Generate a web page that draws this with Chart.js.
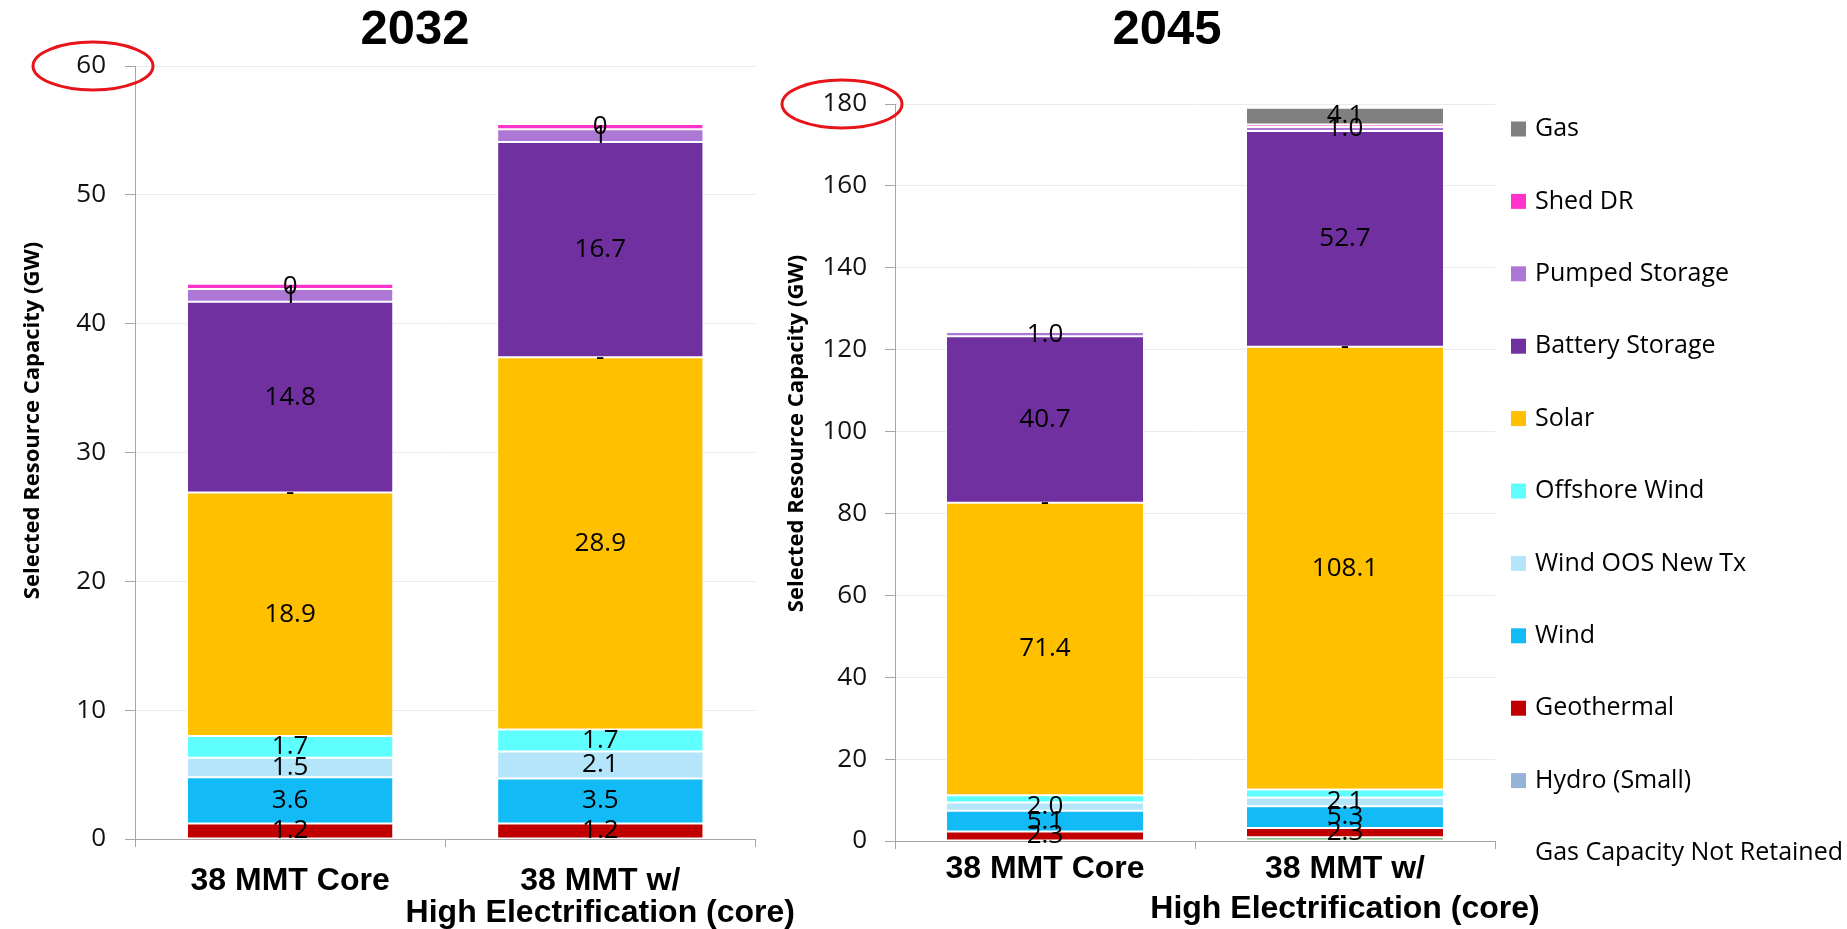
<!DOCTYPE html>
<html>
<head>
<meta charset="utf-8">
<title>Selected Resource Capacity, 2032 and 2045</title>
<script src="https://cdn.jsdelivr.net/npm/chart.js@4.4.1/dist/chart.umd.min.js"></script>
<style>
  html, body { margin: 0; padding: 0; background: #fff; width: 1847px; height: 929px; overflow: hidden; }
  canvas { position: absolute; top: 0; }
  #c2032 { left: 0; }
  #c2045 { left: 760px; }
</style>
</head>
<body>
<canvas id="c2032" width="830" height="929"></canvas>
<canvas id="c2045" width="1087" height="929"></canvas>
<script>
// ---- categories and series (stack order, bottom to top) ----
const categories = ['38 MMT Core', ['38 MMT w/', 'High Electrification (core)']];

const seriesNames = [
  'Gas Capacity Not Retained', 'Hydro (Small)', 'Geothermal', 'Wind', 'Wind OOS New Tx',
  'Offshore Wind', 'Solar', '', 'Battery Storage', 'Pumped Storage', 'Shed DR', 'Gas'
];
const seriesColors = [
  '#6AA86A', '#95B3D7', '#C00000', '#12BBF6', '#B4E5FA',
  '#5FFFFF', '#FFC000', '#FFFFFF', '#7030A0', '#AD78D5', '#FF33CC', '#808080'
];
// 'box' = swatch + name, 'text' = name only, 'none' = left out of the legend
const legendModes = ['text', 'box', 'box', 'box', 'box', 'box', 'box', 'none', 'box', 'box', 'box', 'box'];

// ---- 2032 values (GW) ----
const gasNotRetained2032 = [0, 0];
const hydroSmall2032     = [0, 0];
const geothermal2032     = [1.2, 1.2];
const wind2032           = [3.6, 3.5];
const windOOS2032        = [1.5, 2.1];
const offshoreWind2032   = [1.7, 1.7];
const solar2032          = [18.9, 28.9];
const emptyEntry2032     = [0, 0];
const battery2032        = [14.8, 16.7];
const pumped2032         = [1.0, 1.0];
const shedDR2032         = [0.4, 0.4];
const gas2032            = [0, 0];

// ---- 2045 values (GW) ----
const gasNotRetained2045 = [0, 0.9];
const hydroSmall2045     = [0, 0];
const geothermal2045     = [2.3, 2.3];
const wind2045           = [5.1, 5.3];
const windOOS2045        = [2.0, 2.1];
const offshoreWind2045   = [1.8, 2.0];
const solar2045          = [71.4, 108.1];
const emptyEntry2045     = [0, 0];
const battery2045        = [40.7, 52.7];
const pumped2045         = [1.0, 1.0];
const shedDR2045         = [0.4, 0.6];
const gas2045            = [0, 4.1];

// decimals used by each series' value label (null = no label, 'dash' = zero shown as "-")
const labelDecimals2032 = [null, null, 1, 1, 1, 1, 1, 'dash', 1, 0, 0, null];
const labelDecimals2045 = [null, null, 1, 1, 1, null, 1, 'dash', 1, 1, null, 1];

// ---- y-axis tick labels ----
const yTicks2032 = [0, 10, 20, 30, 40, 50, 60];
const yTicks2045 = [0, 20, 40, 60, 80, 100, 120, 140, 160, 180];

const values2032 = [gasNotRetained2032, hydroSmall2032, geothermal2032, wind2032, windOOS2032,
  offshoreWind2032, solar2032, emptyEntry2032, battery2032, pumped2032, shedDR2032, gas2032];
const values2045 = [gasNotRetained2045, hydroSmall2045, geothermal2045, wind2045, windOOS2045,
  offshoreWind2045, solar2045, emptyEntry2045, battery2045, pumped2045, shedDR2045, gas2045];

// ---- styling ----
const axisGray = '#A6A6A6';
const gridGray = '#EBEBEB';
const sansFamily = '"Open Sans", "Noto Sans", "DejaVu Sans", sans-serif';
const boldFamily = '"Liberation Sans", Arial, sans-serif';

// year heading above each plot
const yearHeading = {
  id: 'yearHeading',
  afterDraw(chart, args, opts) {
    const ctx = chart.ctx;
    ctx.save();
    ctx.font = `bold ${opts.size}px ${boldFamily}`;
    ctx.fillStyle = '#000';
    ctx.textAlign = 'center';
    ctx.textBaseline = 'middle';
    ctx.fillText(opts.text, chart.chartArea.left + opts.dx, opts.y);
    ctx.restore();
  }
};

// value labels centred in each stacked segment
const barValueLabels = {
  id: 'barValueLabels',
  afterDatasetsDraw(chart, args, opts) {
    const ctx = chart.ctx;
    ctx.save();
    ctx.font = `${opts.size}px ${sansFamily}`;
    ctx.fillStyle = '#000';
    ctx.textAlign = 'center';
    ctx.textBaseline = 'middle';
    chart.data.datasets.forEach((ds, i) => {
      const dec = ds.labelDecimals;
      if (dec === null || dec === undefined) return;
      const meta = chart.getDatasetMeta(i);
      meta.data.forEach((el, j) => {
        const v = ds.data[j];
        let text;
        if (dec === 'dash') text = '-';
        else if (!v) return;
        else text = v.toFixed(dec);
        const p = el.getProps(['x', 'y', 'base'], true);
        ctx.fillText(text, p.x, (p.y + p.base) / 2);
      });
    });
    ctx.restore();
  }
};

// rotated y-axis title
const axisTitle = {
  id: 'axisTitle',
  afterDraw(chart, args, opts) {
    const a = chart.chartArea;
    const ctx = chart.ctx;
    ctx.save();
    ctx.translate(a.left + opts.dx, (a.top + a.bottom) / 2 + opts.dy);
    ctx.rotate(-Math.PI / 2);
    ctx.font = `bold ${opts.size}px ${sansFamily}`;
    ctx.fillStyle = '#000';
    ctx.textAlign = 'center';
    ctx.textBaseline = 'middle';
    ctx.fillText(opts.text, 0, 0);
    ctx.restore();
  }
};

// red ring around the top tick label
const topTickRing = {
  id: 'topTickRing',
  afterDraw(chart, args, opts) {
    const y = chart.scales.y;
    const ctx = chart.ctx;
    ctx.save();
    ctx.strokeStyle = '#E8141B';
    ctx.lineWidth = 3;
    ctx.beginPath();
    ctx.ellipse(chart.chartArea.left + opts.dx, y.getPixelForValue(y.max), opts.rx, opts.ry, 0, 0, Math.PI * 2);
    ctx.stroke();
    ctx.restore();
  }
};

// legend column to the right of the 2045 plot
const sideLegend = {
  id: 'sideLegend',
  afterDraw(chart, args, opts) {
    if (!opts.show) return;
    const a = chart.chartArea;
    const ctx = chart.ctx;
    const items = chart.data.datasets.slice().reverse().filter(ds => ds.legendMode !== 'none');
    ctx.save();
    ctx.font = `${opts.size}px ${sansFamily}`;
    ctx.textAlign = 'left';
    ctx.textBaseline = 'middle';
    items.forEach((ds, k) => {
      const cy = a.top + opts.dy + k * opts.step;
      const x = a.right + opts.dx;
      if (ds.legendMode === 'box') {
        ctx.fillStyle = ds.backgroundColor;
        ctx.fillRect(x, cy - opts.box / 2, opts.box, opts.box);
      }
      ctx.fillStyle = '#000';
      ctx.fillText(ds.label, x + opts.box + 9, cy);
    });
    ctx.restore();
  }
};

function buildDatasets(values, decimals, barPct) {
  return seriesNames.map((name, i) => ({
    label: name,
    data: values[i],
    backgroundColor: seriesColors[i],
    borderColor: '#FFFFFF',
    borderWidth: 1,
    borderSkipped: false,
    barPercentage: barPct,
    categoryPercentage: 1,
    labelDecimals: decimals[i],
    legendMode: legendModes[i]
  }));
}

function makeChart(id, o) {
  return new Chart(document.getElementById(id), {
    type: 'bar',
    data: { labels: categories, datasets: buildDatasets(o.values, o.decimals, o.barPct) },
    options: {
      responsive: false,
      animation: false,
      events: [],
      layout: { padding: { left: 0, right: o.padRight, top: o.padTop, bottom: 0 } },
      plugins: {
        legend: { display: false },
        tooltip: { enabled: false },
        title: { display: false },
        yearHeading: { text: o.title, size: 49, dx: o.headDx, y: 30 },
        barValueLabels: { size: 26 },
        axisTitle: { text: 'Selected Resource Capacity (GW)', size: 22, dx: o.titleDx, dy: o.titleDy },
        topTickRing: { dx: o.ringDx, rx: 60, ry: 24 },
        sideLegend: { show: o.legend, dx: 16, dy: 25, step: 72.4, box: 15, size: 25 }
      },
      scales: {
        x: {
          stacked: true,
          offset: true,
          grid: { display: true, offset: true, drawOnChartArea: false, drawTicks: true, tickLength: 8, tickColor: axisGray },
          border: { display: true, color: axisGray, width: 1 },
          ticks: {
            color: '#000', autoSkip: false, maxRotation: 0, minRotation: 0, padding: o.xPad,
            font: { family: boldFamily, size: 32, weight: 'bold', lineHeight: o.xLine }
          },
          afterFit: s => { s.height = o.xHeight; }
        },
        y: {
          stacked: true,
          min: 0,
          max: o.yTicks[o.yTicks.length - 1],
          afterBuildTicks: s => { s.ticks = o.yTicks.map(v => ({ value: v })); },
          grid: { color: gridGray, lineWidth: 1, drawTicks: true, tickLength: 10, tickColor: axisGray },
          border: { display: true, color: axisGray, width: 1 },
          ticks: { color: '#111', padding: o.yPad, font: { family: sansFamily, size: 26 } },
          afterFit: s => { s.width = 135; }
        }
      }
    },
    plugins: [yearHeading, barValueLabels, axisTitle, topTickRing, sideLegend]
  });
}

makeChart('c2032', {
  title: '2032', values: values2032, decimals: labelDecimals2032, yTicks: yTicks2032,
  barPct: 0.665, padRight: 68, padTop: 66, yPad: 19, headDx: 280,
  xHeight: 90, xPad: 18, xLine: 1.0,
  titleDx: -102, titleDy: -32, ringDx: -42, legend: false
});

makeChart('c2045', {
  title: '2045', values: values2045, decimals: labelDecimals2045, yTicks: yTicks2045,
  barPct: 0.66, padRight: 352, padTop: 104, yPad: 18, headDx: 272,
  xHeight: 88, xPad: 0, xLine: 1.25,
  titleDx: -98, titleDy: -39, ringDx: -53, legend: true
});
</script>
</body>
</html>
